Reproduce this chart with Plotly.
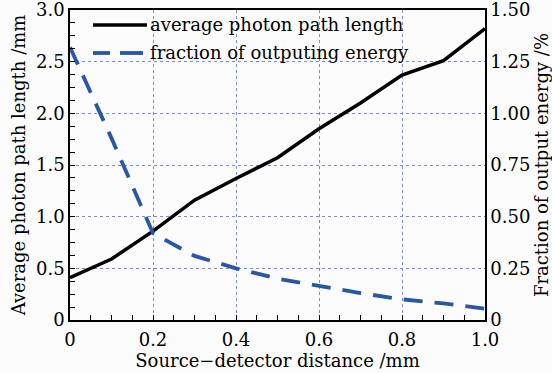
import plotly.graph_objects as go

distance = [0, 0.1, 0.2, 0.3, 0.4, 0.5, 0.6, 0.7, 0.8, 0.9, 1.0]
path_length = [0.41, 0.59, 0.86, 1.16, 1.37, 1.57, 1.85, 2.10, 2.37, 2.51, 2.82]
output_energy = [1.32, 0.88, 0.42, 0.31, 0.25, 0.20, 0.165, 0.13, 0.10, 0.08, 0.055]
series_names = ["average photon path length", "fraction of outputing energy"]

x_ticks = [0, 0.2, 0.4, 0.6, 0.8, 1.0]
x_ticktext = ["0", "0.2", "0.4", "0.6", "0.8", "1.0"]
x_minor = [0.05, 0.1, 0.15, 0.25, 0.3, 0.35, 0.45, 0.5, 0.55, 0.65, 0.7, 0.75, 0.85, 0.9, 0.95]
yl_ticks = [0, 0.5, 1.0, 1.5, 2.0, 2.5, 3.0]
yl_ticktext = ["0", "0.5", "1.0", "1.5", "2.0", "2.5", "3.0"]
yl_minor = [0.125, 0.25, 0.375, 0.625, 0.75, 0.875, 1.125, 1.25, 1.375, 1.625, 1.75, 1.875,
            2.125, 2.25, 2.375, 2.625, 2.75, 2.875]
yr_ticks = [0, 0.25, 0.5, 0.75, 1.0, 1.25, 1.5]
yr_ticktext = ["0", "0.25", "0.50", "0.75", "1.00", "1.25", "1.50"]

FONT = "DejaVu Serif"
GRID = "#7f8ad6"
BLUE = "#2a56a8"

fig = go.Figure()
fig.add_trace(go.Scatter(
    x=distance, y=path_length, mode="lines", name=series_names[0],
    line=dict(color="black", width=3.5), yaxis="y"))
fig.add_trace(go.Scatter(
    x=distance, y=output_energy, mode="lines", name=series_names[1],
    line=dict(color=BLUE, width=3.8, dash="19px,12px"), yaxis="y2"))

# manual legend (paper coordinates)
def px_x(p):
    return (p - 70) / 415.0

def px_y(p):
    return (320 - p) / 310.0

shapes = [
    dict(type="line", xref="paper", yref="paper", x0=px_x(93), x1=px_x(147),
         y0=px_y(25), y1=px_y(25), line=dict(color="black", width=3.5)),
    dict(type="line", xref="paper", yref="paper", x0=px_x(93), x1=px_x(110),
         y0=px_y(53), y1=px_y(53), line=dict(color=BLUE, width=3.8)),
    dict(type="line", xref="paper", yref="paper", x0=px_x(120), x1=px_x(143),
         y0=px_y(53), y1=px_y(53), line=dict(color=BLUE, width=3.8)),
]
annotations = [
    dict(xref="paper", yref="paper", x=px_x(148), y=px_y(25), text=series_names[0],
         showarrow=False, xanchor="left", yanchor="middle", font=dict(family=FONT, size=18)),
    dict(xref="paper", yref="paper", x=px_x(148), y=px_y(53), text=series_names[1],
         showarrow=False, xanchor="left", yanchor="middle", font=dict(family=FONT, size=18)),
]

fig.update_layout(
    width=552, height=373,
    margin=dict(l=70, r=67, t=10, b=53),
    paper_bgcolor="#fcfcfc", plot_bgcolor="#fcfcfc",
    font=dict(family=FONT, size=17, color="black"),
    showlegend=False,
    shapes=shapes, annotations=annotations,
    xaxis=dict(range=[0, 1.0], tickmode="array", tickvals=x_ticks, ticktext=x_ticktext,
               showgrid=True, gridcolor=GRID, griddash="dot", gridwidth=1,
               showline=True, linecolor="black", linewidth=1.5, mirror=True,
               ticks="inside", ticklen=5, tickcolor="black", zeroline=False,
               automargin=False, ticklabeloverflow="allow", ticklabelstandoff=3,
               minor=dict(tickmode="array", tickvals=x_minor, ticks="inside", ticklen=5,
                          tickcolor="black", showgrid=False),
               title=dict(text="Source\u2212detector distance /mm", standoff=5,
                          font=dict(family=FONT, size=18)),
               tickfont=dict(family=FONT, size=18)),
    yaxis=dict(range=[0, 3.0], tickmode="array", tickvals=yl_ticks, ticktext=yl_ticktext,
               showgrid=True, gridcolor=GRID, griddash="dot", gridwidth=1,
               showline=True, linecolor="black", linewidth=1.5,
               ticks="inside", ticklen=5, tickcolor="black", zeroline=False,
               automargin=False, ticklabeloverflow="allow",
               minor=dict(tickmode="array", tickvals=yl_minor, ticks="inside", ticklen=5,
                          tickcolor="black", showgrid=False),
               title=dict(text="Average photon path length /mm", standoff=6,
                          font=dict(family=FONT, size=18)),
               tickfont=dict(family=FONT, size=18)),
    yaxis2=dict(range=[0, 1.5], tickmode="array", tickvals=yr_ticks, ticktext=yr_ticktext,
                overlaying="y", side="right", showgrid=False, zeroline=False,
                showline=True, linecolor="black", linewidth=1.5, ticks="",
                automargin=False, ticklabeloverflow="allow",
                title=dict(text="Fraction of output energy /%", standoff=8,
                           font=dict(family=FONT, size=18)),
                tickfont=dict(family=FONT, size=18)),
)

fig.write_html("out.html")
